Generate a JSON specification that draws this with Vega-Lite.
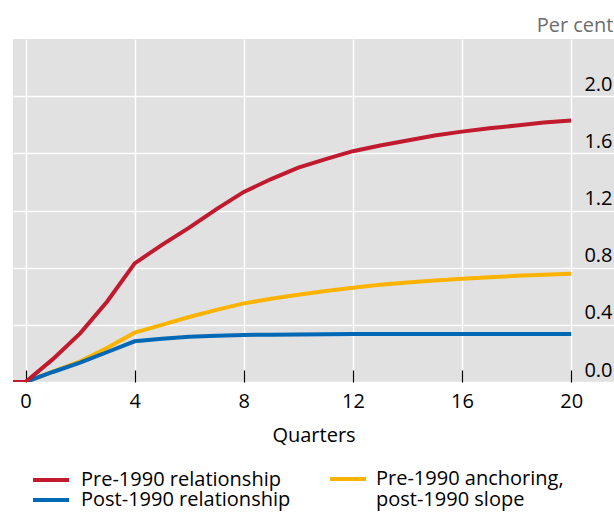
{
  "$schema": "https://vega.github.io/schema/vega-lite/v6.json",
  "width": 601,
  "height": 343,
  "autosize": {"type": "none"},
  "padding": {"left": 13, "top": 39, "right": 0, "bottom": 130},
  "background": "white",
  "config": {
    "font": "Open Sans",
    "view": {"fill": "#e1e1e1", "stroke": null},
    "axis": {"labelFont": "Open Sans", "titleFont": "Open Sans"},
    "legend": {
      "labelFont": "Open Sans",
      "labelFontSize": 20,
      "labelColor": "black",
      "labelOffset": 8,
      "labelLimit": 400,
      "symbolType": "stroke",
      "symbolSize": 1296,
      "symbolStrokeWidth": 4,
      "padding": 0,
      "orient": "none"
    }
  },
  "data": {
    "values": [
      {"q": -1, "v": 0, "s": "Pre-1990 relationship"},
      {"q": 0, "v": 0, "s": "Pre-1990 relationship"},
      {"q": 1, "v": 0.16, "s": "Pre-1990 relationship"},
      {"q": 2, "v": 0.34, "s": "Pre-1990 relationship"},
      {"q": 3, "v": 0.565, "s": "Pre-1990 relationship"},
      {"q": 4, "v": 0.83, "s": "Pre-1990 relationship"},
      {"q": 5, "v": 0.96, "s": "Pre-1990 relationship"},
      {"q": 6, "v": 1.08, "s": "Pre-1990 relationship"},
      {"q": 7, "v": 1.21, "s": "Pre-1990 relationship"},
      {"q": 8, "v": 1.33, "s": "Pre-1990 relationship"},
      {"q": 9, "v": 1.42, "s": "Pre-1990 relationship"},
      {"q": 10, "v": 1.5, "s": "Pre-1990 relationship"},
      {"q": 11, "v": 1.56, "s": "Pre-1990 relationship"},
      {"q": 12, "v": 1.615, "s": "Pre-1990 relationship"},
      {"q": 13, "v": 1.655, "s": "Pre-1990 relationship"},
      {"q": 14, "v": 1.69, "s": "Pre-1990 relationship"},
      {"q": 15, "v": 1.725, "s": "Pre-1990 relationship"},
      {"q": 16, "v": 1.752, "s": "Pre-1990 relationship"},
      {"q": 17, "v": 1.775, "s": "Pre-1990 relationship"},
      {"q": 18, "v": 1.795, "s": "Pre-1990 relationship"},
      {"q": 19, "v": 1.815, "s": "Pre-1990 relationship"},
      {"q": 20, "v": 1.83, "s": "Pre-1990 relationship"},
      {"q": 0, "v": 0, "s": "Pre-1990 anchoring, post-1990 slope"},
      {"q": 1, "v": 0.072, "s": "Pre-1990 anchoring, post-1990 slope"},
      {"q": 2, "v": 0.145, "s": "Pre-1990 anchoring, post-1990 slope"},
      {"q": 3, "v": 0.24, "s": "Pre-1990 anchoring, post-1990 slope"},
      {"q": 4, "v": 0.345, "s": "Pre-1990 anchoring, post-1990 slope"},
      {"q": 5, "v": 0.4, "s": "Pre-1990 anchoring, post-1990 slope"},
      {"q": 6, "v": 0.455, "s": "Pre-1990 anchoring, post-1990 slope"},
      {"q": 7, "v": 0.505, "s": "Pre-1990 anchoring, post-1990 slope"},
      {"q": 8, "v": 0.55, "s": "Pre-1990 anchoring, post-1990 slope"},
      {"q": 9, "v": 0.582, "s": "Pre-1990 anchoring, post-1990 slope"},
      {"q": 10, "v": 0.61, "s": "Pre-1990 anchoring, post-1990 slope"},
      {"q": 11, "v": 0.637, "s": "Pre-1990 anchoring, post-1990 slope"},
      {"q": 12, "v": 0.66, "s": "Pre-1990 anchoring, post-1990 slope"},
      {"q": 13, "v": 0.68, "s": "Pre-1990 anchoring, post-1990 slope"},
      {"q": 14, "v": 0.697, "s": "Pre-1990 anchoring, post-1990 slope"},
      {"q": 15, "v": 0.71, "s": "Pre-1990 anchoring, post-1990 slope"},
      {"q": 16, "v": 0.722, "s": "Pre-1990 anchoring, post-1990 slope"},
      {"q": 17, "v": 0.733, "s": "Pre-1990 anchoring, post-1990 slope"},
      {"q": 18, "v": 0.743, "s": "Pre-1990 anchoring, post-1990 slope"},
      {"q": 19, "v": 0.75, "s": "Pre-1990 anchoring, post-1990 slope"},
      {"q": 20, "v": 0.757, "s": "Pre-1990 anchoring, post-1990 slope"},
      {"q": 0, "v": 0, "s": "Post-1990 relationship"},
      {"q": 1, "v": 0.07, "s": "Post-1990 relationship"},
      {"q": 2, "v": 0.135, "s": "Post-1990 relationship"},
      {"q": 3, "v": 0.21, "s": "Post-1990 relationship"},
      {"q": 4, "v": 0.285, "s": "Post-1990 relationship"},
      {"q": 5, "v": 0.303, "s": "Post-1990 relationship"},
      {"q": 6, "v": 0.316, "s": "Post-1990 relationship"},
      {"q": 7, "v": 0.324, "s": "Post-1990 relationship"},
      {"q": 8, "v": 0.329, "s": "Post-1990 relationship"},
      {"q": 9, "v": 0.331, "s": "Post-1990 relationship"},
      {"q": 10, "v": 0.333, "s": "Post-1990 relationship"},
      {"q": 11, "v": 0.334, "s": "Post-1990 relationship"},
      {"q": 12, "v": 0.335, "s": "Post-1990 relationship"},
      {"q": 13, "v": 0.335, "s": "Post-1990 relationship"},
      {"q": 14, "v": 0.335, "s": "Post-1990 relationship"},
      {"q": 15, "v": 0.335, "s": "Post-1990 relationship"},
      {"q": 16, "v": 0.335, "s": "Post-1990 relationship"},
      {"q": 17, "v": 0.335, "s": "Post-1990 relationship"},
      {"q": 18, "v": 0.335, "s": "Post-1990 relationship"},
      {"q": 19, "v": 0.335, "s": "Post-1990 relationship"},
      {"q": 20, "v": 0.335, "s": "Post-1990 relationship"}
    ]
  },
  "encoding": {
    "x": {
      "field": "q",
      "type": "quantitative",
      "scale": {"domain": [-0.46, 21.57], "nice": false, "zero": false},
      "axis": {
        "values": [0, 4, 8, 12, 16, 20],
        "title": "Quarters",
        "titleFontSize": 20,
        "titleFontWeight": "normal",
        "titleColor": "black",
        "titlePadding": 14,
        "labelFontSize": 20,
        "labelColor": "black",
        "labelPadding": 21,
        "labelBaseline": "top",
        "domain": false,
        "grid": true,
        "gridColor": "white",
        "gridWidth": 1.5,
        "ticks": true,
        "tickSize": -12,
        "tickColor": "black",
        "tickWidth": 1.2
      }
    },
    "y": {
      "field": "v",
      "type": "quantitative",
      "scale": {"domain": [0, 2.4], "nice": false},
      "axis": {
        "orient": "right",
        "values": [0, 0.4, 0.8, 1.2, 1.6, 2.0],
        "format": ".1f",
        "title": "Per cent",
        "titleAngle": 0,
        "titleAlign": "right",
        "titleBaseline": "alphabetic",
        "titleX": -1,
        "titleY": -8,
        "titleFontSize": 20,
        "titleFontWeight": "normal",
        "titleColor": "#6d6d6d",
        "labelFontSize": 20,
        "labelColor": "black",
        "labelAlign": "right",
        "labelBaseline": "alphabetic",
        "labelPadding": -2,
        "labelOffset": -6,
        "domain": false,
        "ticks": false,
        "grid": true,
        "gridColor": "white",
        "gridWidth": 1.5
      }
    }
  },
  "layer": [
    {
      "transform": [{"filter": "datum.s == 'Pre-1990 anchoring, post-1990 slope'"}],
      "mark": {"type": "line", "strokeWidth": 4, "clip": true},
      "encoding": {
        "stroke": {
          "field": "s",
          "type": "nominal",
          "scale": {"domain": ["Pre-1990 anchoring, post-1990 slope"], "range": ["#fbb300"]},
          "legend": {
            "title": null,
            "legendX": 315,
            "legendY": 420,
            "labelExpr": "['Pre-1990 anchoring,', 'post-1990 slope']",
            "encode": {
              "labels": {
                "update": {
                  "lineHeight": {"value": 21}
                }
              }
            }
          }
        }
      }
    },
    {
      "transform": [{"filter": "datum.s == 'Post-1990 relationship'"}],
      "mark": {"type": "line", "strokeWidth": 4, "clip": true},
      "encoding": {
        "color": {
          "field": "s",
          "type": "nominal",
          "scale": {"domain": ["Pre-1990 relationship", "Post-1990 relationship"], "range": ["#c1192d", "#0068b4"]},
          "legend": {
            "title": null,
            "legendX": 28,
            "legendY": 431,
            "direction": "vertical",
            "symbolType": "M-3.6,0H3.6",
            "symbolSize": 100,
            "labelOffset": 20,
            "rowPadding": -3
          }
        }
      }
    },
    {
      "transform": [{"filter": "datum.s == 'Pre-1990 relationship'"}],
      "mark": {"type": "line", "strokeWidth": 4, "clip": true},
      "encoding": {
        "color": {
          "field": "s",
          "type": "nominal",
          "scale": {"domain": ["Pre-1990 relationship", "Post-1990 relationship"], "range": ["#c1192d", "#0068b4"]},
          "legend": {
            "title": null,
            "legendX": 28,
            "legendY": 431,
            "direction": "vertical",
            "symbolType": "M-3.6,0H3.6",
            "symbolSize": 100,
            "labelOffset": 20,
            "rowPadding": -3
          }
        }
      }
    }
  ]
}
